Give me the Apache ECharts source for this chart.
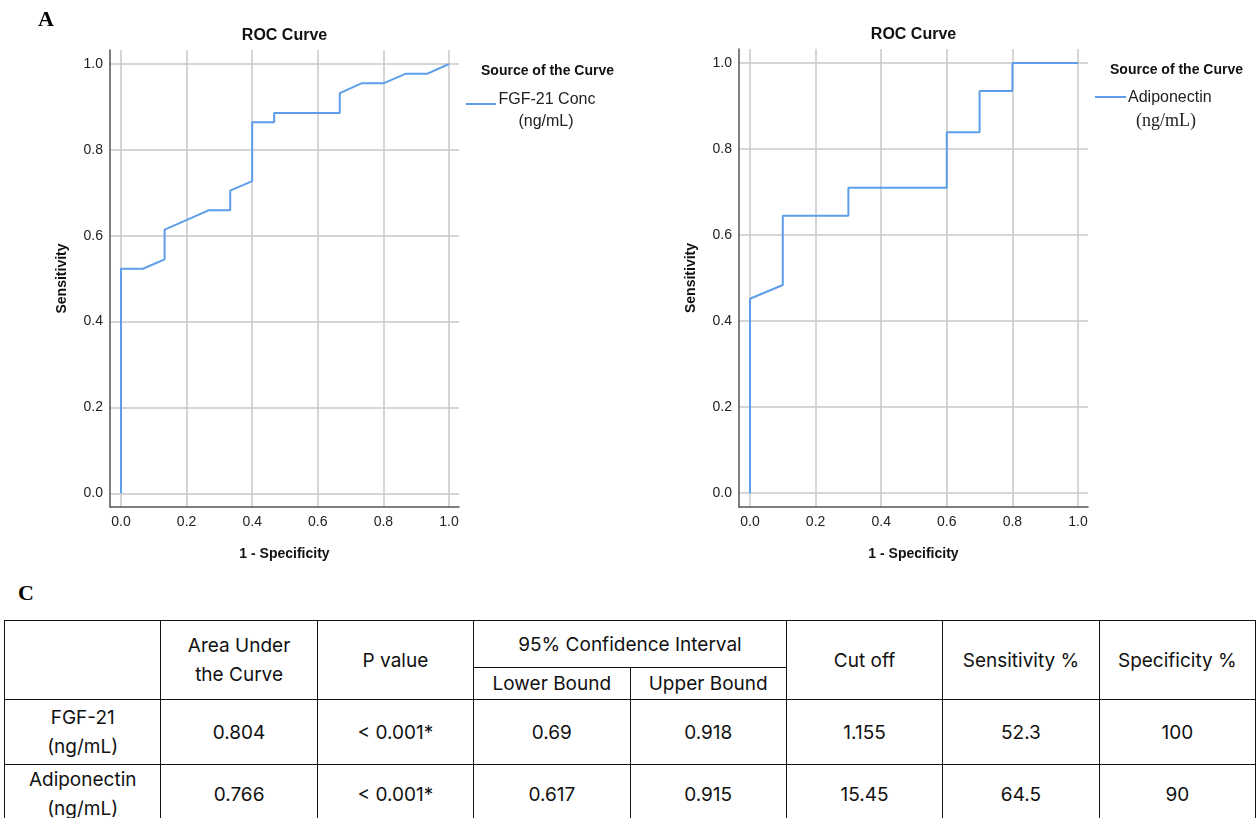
<!DOCTYPE html>
<html>
<head>
<meta charset="utf-8">
<script src="https://cdn.jsdelivr.net/npm/echarts@6/dist/echarts.min.js"></script>
<style>
html,body{margin:0;padding:0;width:1258px;height:818px;overflow:hidden;background:#fff;}
#chart{position:absolute;left:0;top:0;width:1258px;height:580px;}
#labC{position:absolute;left:18px;top:580px;font:bold 22px "Liberation Serif";color:#000;}
#tbl{position:absolute;left:4px;top:620px;border-collapse:collapse;table-layout:fixed;width:1252px;font-family:"Inter";font-size:19px;color:#111;}
#tbl td{border:1.5px solid #111;text-align:center;vertical-align:middle;padding:0;line-height:29px;}
</style>
</head>
<body>
<div id="chart"></div>
<div id="labC">C</div>
<table id="tbl"></table>
<script>
// ---------- data ----------
const axisTicks = [0, 0.2, 0.4, 0.6, 0.8, 1.0];

// FGF-21 ROC curve (1 - specificity, sensitivity)
const fgf21FPR  = [0, 0,     0.067, 0.133, 0.133, 0.267, 0.333, 0.333, 0.4,   0.4,   0.467, 0.467, 0.667, 0.667, 0.733, 0.8,   0.867, 0.933, 1];
const fgf21Sens = [0, 0.523, 0.523, 0.545, 0.614, 0.659, 0.659, 0.705, 0.727, 0.864, 0.864, 0.886, 0.886, 0.932, 0.955, 0.955, 0.977, 0.977, 1];

// Adiponectin ROC curve
const adipoFPR  = [0, 0,     0.1,   0.1,   0.3,   0.3,   0.6,   0.6,   0.7,   0.7,   0.8,   0.8, 1];
const adipoSens = [0, 0.452, 0.484, 0.645, 0.645, 0.710, 0.710, 0.839, 0.839, 0.935, 0.935, 1,   1];

// Table C
const tableRowLabels   = [['FGF-21', '(ng/mL)'], ['Adiponectin', '(ng/mL)']];
const tableAUC         = ['0.804', '0.766'];
const tablePValue      = ['< 0.001*', '< 0.001*'];
const tableLowerBound  = ['0.69', '0.617'];
const tableUpperBound  = ['0.918', '0.915'];
const tableCutOff      = ['1.155', '15.45'];
const tableSensitivity = ['52.3', '64.5'];
const tableSpecificity = ['100', '90'];

// ---------- chart ----------
const BLUE = '#5e9ee8';
const AX = {min: -0.0335, max: 1.0305};
const AY = {min: -0.032, max: 1.0326};

function zip(a, b) { return a.map((v, i) => [v, b[i]]); }

function xAxisCfg(gi) {
  return {
    gridIndex: gi, type: 'value', min: AX.min, max: AX.max,
    name: '1 - Specificity', nameLocation: 'middle', nameGap: 40,
    nameTextStyle: {fontFamily: 'Liberation Sans', fontWeight: 'bold', fontSize: 14, color: '#111'},
    axisLine: {show: true, onZero: false, lineStyle: {color: '#555', width: 1.5}},
    axisTick: {show: false, customValues: axisTicks},
    axisLabel: {customValues: axisTicks, formatter: v => v.toFixed(1), fontFamily: 'Liberation Sans', fontSize: 14, color: '#222', margin: 8},
    splitLine: {show: true, lineStyle: {color: '#c8c8c8', width: 1.5}}
  };
}
function yAxisCfg(gi) {
  return {
    gridIndex: gi, type: 'value', min: AY.min, max: AY.max,
    name: 'Sensitivity', nameLocation: 'middle', nameGap: 41,
    nameTextStyle: {fontFamily: 'Liberation Sans', fontWeight: 'bold', fontSize: 14, color: '#111'},
    axisLine: {show: true, onZero: false, lineStyle: {color: '#555', width: 1.5}},
    axisTick: {show: false, customValues: axisTicks},
    axisLabel: {customValues: axisTicks, formatter: v => v.toFixed(1), fontFamily: 'Liberation Sans', fontSize: 14, color: '#222', margin: 7},
    splitLine: {show: true, lineStyle: {color: '#c8c8c8', width: 1.5}}
  };
}

const chart = echarts.init(document.getElementById('chart'), null, {renderer: 'canvas'});
chart.setOption({
  animation: false,
  backgroundColor: '#fff',
  grid: [
    {left: 110, top: 50, width: 349, height: 457},
    {left: 739, top: 49, width: 349, height: 458}
  ],
  xAxis: [xAxisCfg(0), xAxisCfg(1)],
  yAxis: [yAxisCfg(0), yAxisCfg(1)],
  series: [
    {name: 'FGF-21 Conc (ng/mL)', type: 'line', xAxisIndex: 0, yAxisIndex: 0, data: zip(fgf21FPR, fgf21Sens),
     showSymbol: false, lineStyle: {color: BLUE, width: 2}, itemStyle: {color: BLUE}},
    {name: 'Adiponectin (ng/mL)', type: 'line', xAxisIndex: 1, yAxisIndex: 1, data: zip(adipoFPR, adipoSens),
     showSymbol: false, lineStyle: {color: BLUE, width: 2}, itemStyle: {color: BLUE}}
  ],
  graphic: [
    {type: 'text', x: 38, y: 20, style: {text: 'A', font: 'bold 22px "Liberation Serif"', fill: '#000', verticalAlign: 'middle'}},
    {type: 'text', x: 284.5, y: 36, style: {text: 'ROC Curve', font: 'bold 16px "Liberation Sans"', fill: '#111', align: 'center', verticalAlign: 'middle'}},
    {type: 'text', x: 913.5, y: 35, style: {text: 'ROC Curve', font: 'bold 16px "Liberation Sans"', fill: '#111', align: 'center', verticalAlign: 'middle'}},
    // legend left
    {type: 'text', x: 481, y: 71, style: {text: 'Source of the Curve', font: 'bold 14px "Liberation Sans"', fill: '#111', verticalAlign: 'middle'}},
    {type: 'line', shape: {x1: 466, y1: 104, x2: 496, y2: 104}, style: {stroke: BLUE, lineWidth: 2}},
    {type: 'text', x: 547, y: 100, style: {text: 'FGF-21 Conc', font: '16px "Liberation Sans"', fill: '#222', align: 'center', verticalAlign: 'middle'}},
    {type: 'text', x: 546, y: 122, style: {text: '(ng/mL)', font: '16px "Liberation Sans"', fill: '#222', align: 'center', verticalAlign: 'middle'}},
    // legend right
    {type: 'text', x: 1110, y: 70, style: {text: 'Source of the Curve', font: 'bold 14px "Liberation Sans"', fill: '#111', verticalAlign: 'middle'}},
    {type: 'line', shape: {x1: 1095, y1: 97, x2: 1126, y2: 97}, style: {stroke: BLUE, lineWidth: 2}},
    {type: 'text', x: 1128, y: 98, style: {text: 'Adiponectin', font: '16px "Liberation Sans"', fill: '#222', verticalAlign: 'middle'}},
    {type: 'text', x: 1166, y: 121, style: {text: '(ng/mL)', font: '18px "Liberation Serif"', fill: '#222', align: 'center', verticalAlign: 'middle'}}
  ]
});

// ---------- table ----------
(function buildTable() {
  const t = document.getElementById('tbl');
  let html = '<colgroup>' + '<col style="width:12.5%">'.repeat(8) + '</colgroup>';
  html += '<tr style="height:47px"><td rowspan="2"></td><td rowspan="2">Area Under<br>the Curve</td><td rowspan="2">P value</td>' +
          '<td colspan="2">95% Confidence Interval</td><td rowspan="2">Cut off</td><td rowspan="2">Sensitivity %</td><td rowspan="2">Specificity %</td></tr>';
  html += '<tr style="height:32px"><td>Lower Bound</td><td>Upper Bound</td></tr>';
  const rowHeights = [65, 58];
  for (let i = 0; i < tableRowLabels.length; i++) {
    html += '<tr style="height:' + rowHeights[i] + 'px"><td>' + tableRowLabels[i].join('<br>') + '</td><td>' + tableAUC[i] + '</td><td>' + tablePValue[i] +
            '</td><td>' + tableLowerBound[i] + '</td><td>' + tableUpperBound[i] + '</td><td>' + tableCutOff[i] +
            '</td><td>' + tableSensitivity[i] + '</td><td>' + tableSpecificity[i] + '</td></tr>';
  }
  t.innerHTML = html;
})();
</script>
</body>
</html>
